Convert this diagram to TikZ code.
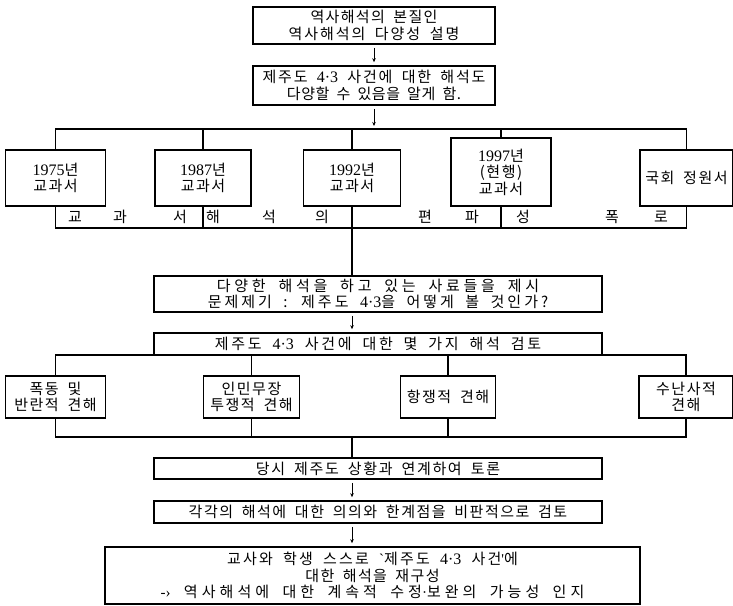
\documentclass[tikz,border=0pt]{standalone}
\usepackage{fontspec}
\setmainfont[WordSpace=1.8]{Noto Sans CJK KR}
\newfontfamily\lat{Liberation Serif}
\newcommand{\dg}[1]{{\fontsize{16}{16}\lat #1}}
\newcommand{\lsp}[2]{{\addfontfeatures{LetterSpace=#1}#2}}
\usetikzlibrary{arrows.meta}
\begin{document}
\begin{tikzpicture}[x=1pt,y=-1pt,
  box/.style={draw,line width=1.6pt,inner sep=0pt,align=center,font=\fontsize{15}{16.5}\selectfont},
  sbox/.style={box,font=\fontsize{15}{16.5}\selectfont\addfontfeatures{LetterSpace=10}},
  ln/.style={line width=1.1pt},
  arr/.style={line width=0.7pt,-{Stealth[length=4pt,width=3.5pt]},shorten <=3pt,shorten >=3pt},
  lab/.style={font=\fontsize{15}{16.5}\selectfont,inner sep=0pt}]
\useasboundingbox (0,0) rectangle (733,605);
\coordinate (mx) at (352,0);
\coordinate (bus1) at (0,129);
\coordinate (bus2) at (0,228);
\coordinate (bus3) at (0,355);
\coordinate (bus4) at (0,437);
% top boxes
\node[box,minimum width=242,minimum height=37] (b1) at (374,25.5) {\lsp{9}{역사해석의 본질인}\\\lsp{13}{역사해석의 다양성 설명}};
\node[box,minimum width=242,minimum height=39] (b2) at (374,85.5) {\lsp{12}{제주도 \dg{4·3} 사건에 대한 해석도}\\\lsp{4}{다양할 수 있음을 알게 함.}};
% row 1
\node[sbox,minimum width=100,minimum height=56] (t1) at (55.5,178) {\dg{1975}년\\교과서};
\node[sbox,minimum width=96,minimum height=56] (t2) at (203,178) {\dg{1987}년\\교과서};
\node[sbox,minimum width=97,minimum height=56] (t3) at (352,178) {\dg{1992}년\\교과서};
\node[sbox,minimum width=100,minimum height=68] (t4) at (501,172) {\dg{1997}년\\(현행)\\교과서};
\node[sbox,minimum width=93,minimum height=56] (t5) at (686.5,178) {국회 정원서};
% middle boxes
\node[box,minimum width=448,minimum height=36] (b3) at (378,294) {\lsp{25}{다양한 해석을 하고 있는 사료들을 제시}\\\lsp{20}{문제제기 : 제주도 \dg{4·3}을 어떻게 볼 것인가?}};
\node[box,minimum width=448,minimum height=22] (b4) at (378,344) {\lsp{18}{제주도 \dg{4·3} 사건에 대한 몇 가지 해석 검토}};
% row 2
\node[sbox,minimum width=100,minimum height=42] (r1) at (55.5,397) {폭동 및\\반란적 견해};
\node[sbox,minimum width=96,minimum height=42] (r2) at (251.5,397) {인민무장\\투쟁적 견해};
\node[sbox,minimum width=95,minimum height=42] (r3) at (448,397) {항쟁적 견해};
\node[sbox,minimum width=94,minimum height=42] (r4) at (686,397) {수난사적\\견해};
% bottom boxes
\node[box,minimum width=448,minimum height=21] (b5) at (378,468.5) {\lsp{11}{당시 제주도 상황과 연계하여 토론}};
\node[box,minimum width=448,minimum height=22] (b6) at (378,512) {\lsp{10}{각각의 해석에 대한 의의와 한계점을 비판적으로 검토}};
\node[box,minimum width=535,minimum height=57] (b7) at (372.5,575.5) {\lsp{15}{교사와 학생 스스로 {\lat `}제주도 \dg{4·3} 사건{\lat '}에}\\\lsp{9}{대한 해석을 재구성}\\\lsp{27}{{\lat -›} 역사해석에 대한 계속적 수정{\lat ·}보완의 가능성 인지}};
% arrows
\draw[arr] (b1.south) -- (b2.north);
\draw[arr] (b2.south) -- (b2.south |- bus1);
\draw[arr] (b3.south -| mx) -- (b4.north -| mx);
\draw[arr] (b5.south -| mx) -- (b6.north -| mx);
\draw[arr] (b6.south -| mx) -- (b7.north -| mx);
% bus 1
\draw[ln] (t1.north) -- (t1.north |- bus1) -- (t5.north |- bus1) -- (t5.north);
\foreach \n in {t2,t3,t4} \draw[ln] (\n.north) -- (\n.north |- bus1);
% bus 2
\draw[ln] (t1.south) -- (t1.south |- bus2) -- (t5.south |- bus2) -- (t5.south);
\foreach \n in {t2,t4} \draw[ln] (\n.south) -- (\n.south |- bus2);
\draw[ln] (t3.south) -- (t3.south |- b3.north);
% labels
\foreach \c/\x in {교/75,과/120,서/180,해/213,석/269,의/322,편/425,파/472,성/523,폭/612,로/661}
  \node[lab] (l\x) at (\x,217) {\c};
% bus 3
\draw[ln] (r1.north) -- (r1.north |- bus3) -- (r4.north |- bus3) -- (r4.north);
\foreach \n in {r2,r3} \draw[ln] (\n.north) -- (\n.north |- bus3);
% bus 4
\draw[ln] (r1.south) -- (r1.south |- bus4) -- (r4.south |- bus4) -- (r4.south);
\foreach \n in {r2,r3} \draw[ln] (\n.south) -- (\n.south |- bus4);
\draw[ln] (mx |- bus4) -- (b5.north -| mx);
\end{tikzpicture}
\end{document}
